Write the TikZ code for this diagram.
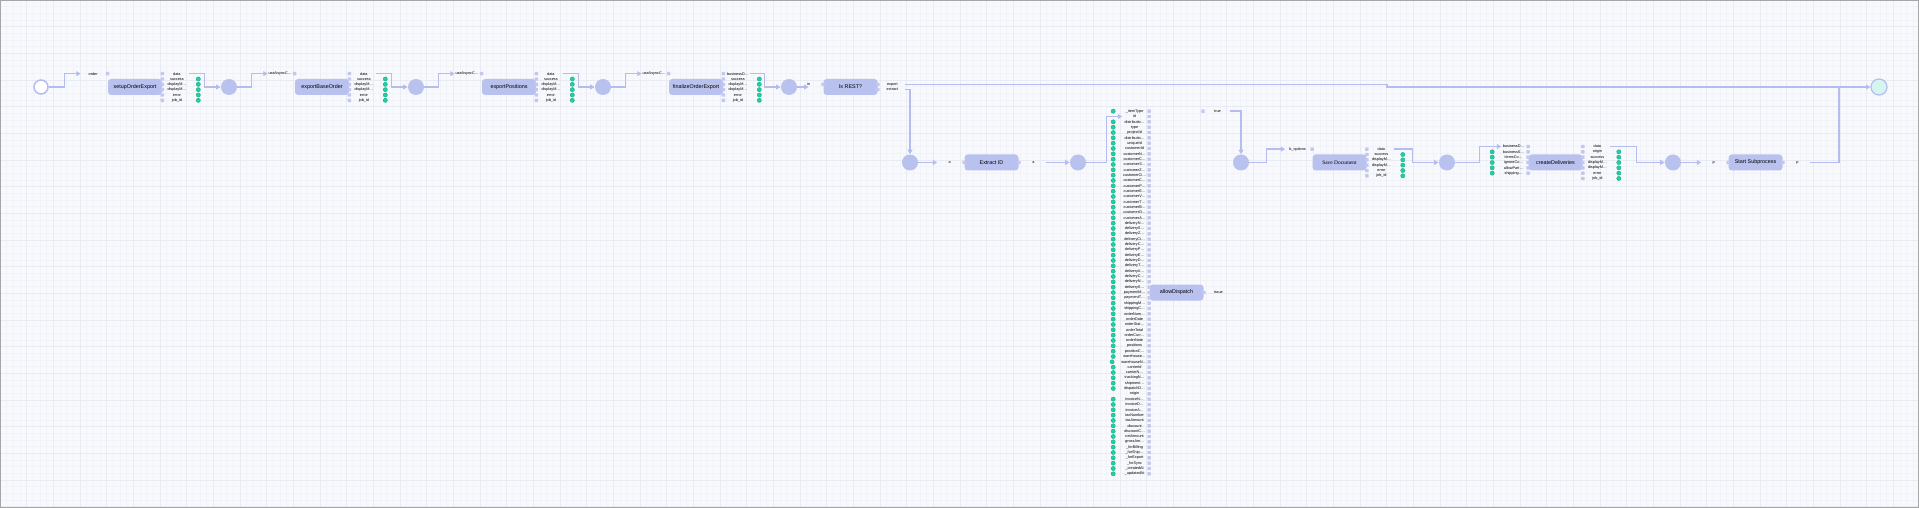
\documentclass[tikz,border=0pt]{standalone}
\usepackage{fontspec}
\setmainfont{Liberation Sans}
\newfontfamily\docserif{Liberation Serif}
\usetikzlibrary{arrows.meta,calc}

\definecolor{flowbg}{HTML}{F7F9FC}
\definecolor{gridfine}{HTML}{F1F3F8}
\definecolor{gridbold}{HTML}{E8EBF2}
\definecolor{taskfill}{HTML}{B9C1EE}
\definecolor{wirecol}{HTML}{B4BCF0}
\definecolor{portfill}{HTML}{C2C8F2}
\definecolor{dotfill}{HTML}{22CFA3}
\definecolor{dotline}{HTML}{12AE86}
\definecolor{stopfill}{HTML}{D4F6EF}

\tikzset{
  task/.style={rectangle, rounded corners=1.6pt, fill=taskfill, minimum width=27pt, minimum height=8pt, inner sep=0pt, font=\fontsize{2.7}{3}\selectfont},
  junction/.style={circle, fill=taskfill, minimum size=8pt, inner sep=0pt},
  startev/.style={circle, fill=white, draw=wirecol, line width=0.75pt, minimum size=7pt, inner sep=0pt},
  stopev/.style={circle, fill=stopfill, draw=wirecol, line width=0.6pt, minimum size=8pt, inner sep=0pt},
  port/.style={rectangle, rounded corners=0.3pt, fill=portfill, minimum size=1.7pt, inner sep=0pt},
  plabel/.style={minimum width=12pt, inner sep=0pt, font=\fontsize{1.9}{2.2}\selectfont},
  dflt/.style={circle, fill=dotfill, draw=dotline, line width=0.2pt, minimum size=2.1pt, inner sep=0pt},
  wire/.style={draw=wirecol, line width=0.7pt},
  flow/.style={wire, -{Triangle[length=2.2pt,width=2.4pt]}},
}

\begin{document}
\begin{tikzpicture}[x=0.5pt,y=-0.5pt]
\useasboundingbox (0,0) rectangle (1919,508);

% canvas
\fill[flowbg] (0,0) rectangle (1919,508);
\draw[gridfine, line width=0.2pt, step=3.3333pt] (0,0) grid (1919,508);
\draw[gridbold, line width=0.3pt, step=13.3333pt] (0,0) grid (1919,508);
\draw[gray!70, line width=0.5pt] (0.5,0.5) rectangle (1918.5,507.5);

% events and junctions
\node[startev] (start) at (41,87) {};
\node[junction] (c1) at (229,87) {};
\node[junction] (c2) at (416,87) {};
\node[junction] (c3) at (603,87) {};
\node[junction] (c4) at (789,87) {};
\node[junction] (c5) at (910,162.5) {};
\node[junction] (c6) at (1078,162.5) {};
\node[junction] (c7) at (1241,162.5) {};
\node[junction] (c8) at (1447,162.5) {};
\node[junction] (c9) at (1673,162.5) {};
\node[stopev] (stop) at (1879,87) {};

% setupOrderExport
\node[task] (setup) at (135,87) {setupOrderExport};
\node[port] (setup-i1) at ($(setup.west)+(0,-13.333)$) {};
\node[plabel,anchor=east] (setup-il1) at (setup-i1.west) {order};
\foreach \lab [count=\k] in {data,success,displayM…,displayM…,error,job\_id} {
  \node[port] (setup-o\k) at ($(setup.east)+(0,{5.333*(\k-3.5)})$) {};
  \node[plabel,anchor=west] (setup-ol\k) at (setup-o\k.east) {\lab};
  \ifnum\k>1 \node[dflt] at ([xshift=4.5pt]setup-ol\k.east) {}; \fi
}

% exportBaseOrder
\node[task] (base) at (322,87) {exportBaseOrder};
\node[port] (base-i1) at ($(base.west)+(0,-13.333)$) {};
\node[plabel,anchor=east] (base-il1) at (base-i1.west) {useAsyncC…};
\foreach \lab [count=\k] in {data,success,displayM…,displayM…,error,job\_id} {
  \node[port] (base-o\k) at ($(base.east)+(0,{5.333*(\k-3.5)})$) {};
  \node[plabel,anchor=west] (base-ol\k) at (base-o\k.east) {\lab};
  \ifnum\k>1 \node[dflt] at ([xshift=4.5pt]base-ol\k.east) {}; \fi
}

% exportPositions
\node[task] (pos) at (509,87) {exportPositions};
\node[port] (pos-i1) at ($(pos.west)+(0,-13.333)$) {};
\node[plabel,anchor=east] (pos-il1) at (pos-i1.west) {useAsyncC…};
\foreach \lab [count=\k] in {data,success,displayM…,displayM…,error,job\_id} {
  \node[port] (pos-o\k) at ($(pos.east)+(0,{5.333*(\k-3.5)})$) {};
  \node[plabel,anchor=west] (pos-ol\k) at (pos-o\k.east) {\lab};
  \ifnum\k>1 \node[dflt] at ([xshift=4.5pt]pos-ol\k.east) {}; \fi
}

% finalizeOrderExport
\node[task] (fin) at (696,87) {finalizeOrderExport};
\node[port] (fin-i1) at ($(fin.west)+(0,-13.333)$) {};
\node[plabel,anchor=east] (fin-il1) at (fin-i1.west) {useAsyncC…};
\foreach \lab [count=\k] in {businessD…,success,displayM…,displayM…,error,job\_id} {
  \node[port] (fin-o\k) at ($(fin.east)+(0,{5.333*(\k-3.5)})$) {};
  \node[plabel,anchor=west] (fin-ol\k) at (fin-o\k.east) {\lab};
  \ifnum\k>1 \node[dflt] at ([xshift=4.5pt]fin-ol\k.east) {}; \fi
}

% Is REST?
\node[task] (rest) at (850.5,87) {Is REST?};
\node[port] (rest-i1) at ($(rest.west)+(0,-2.667)$) {};
\node[plabel,anchor=east] (rest-il1) at (rest-i1.west) {in};
\foreach \lab [count=\k] in {export,extract} {
  \node[port] (rest-o\k) at ($(rest.east)+(0,{5.333*(\k-1.5)})$) {};
  \node[plabel,anchor=west] (rest-ol\k) at (rest-o\k.east) {\lab};
}

% Extract ID
\node[task] (xid) at (991.5,162.5) {Extract ID};
\node[port] (xid-i1) at (xid.west) {};
\node[plabel,anchor=east] (xid-il1) at (xid-i1.west) {a};
\node[port] (xid-o1) at (xid.east) {};
\node[plabel,anchor=west] (xid-ol1) at (xid-o1.east) {a};

% allowDispatch
\node[task] (disp) at (1176.5,292.5) {allowDispatch};
\foreach \lab [count=\k from 0] in {\_itemType,id,distributio…,type,projectId,distributio…,uniqueId,customerId,customerN…,customerC…,customerS…,customerZ…,customerCi…,customerC…,customerP…,customerE…,customerV…,customerT…,customerB…,customerO…,customerA…,deliveryN…,deliveryS…,deliveryZ…,deliveryCi…,deliveryC…,deliveryP…,deliveryE…,deliveryD…,deliveryT…,deliveryA…,deliveryC…,deliveryN…,deliveryS…,paymentM…,paymentT…,shippingM…,shippingC…,orderNum…,orderDate,orderStat…,orderTotal,orderCurr…,orderNote,positions,positionC…,warehouse…,warehouseN…,carrierId,carrierN…,trackingN…,shipment…,dispatchD…,origin,invoiceN…,invoiceD…,invoiceA…,taxNumber,taxAmount,discount,discountC…,netAmount,grossAm…,\_forBilling,\_forShip…,\_forExport,\_forSync,\_createdAt,\_updatedAt} {
  \node[port] (disp-i\k) at ($(disp.west)+(0,{5.333*(\k-34)})$) {};
  \node[plabel,anchor=east] (disp-il\k) at (disp-i\k.west) {\lab};
  \ifnum\k=1 \else\ifnum\k=53 \else
    \node[dflt] at ([xshift=-4.5pt]disp-il\k.west) {};
  \fi\fi
}
\node[port] (disp-o1) at (disp.east) {};
\node[plabel,anchor=west] (disp-ol1) at (disp-o1.east) {issue};

% constant true
\node[port] (const) at (1203,111.2) {};
\node[plabel,anchor=west] (const-l) at (const.east) {true};

% Save Document
\node[task, font={\docserif\fontsize{2.7}{3}\selectfont}] (save) at (1339.5,162.5) {Save Document};
\node[port] (save-i1) at ($(save.west)+(0,-13.333)$) {};
\node[plabel,anchor=east] (save-il1) at (save-i1.west) {b\_options};
\foreach \lab [count=\k] in {data,success,displayM…,displayM…,error,job\_id} {
  \node[port] (save-o\k) at ($(save.east)+(0,{5.333*(\k-3.5)})$) {};
  \node[plabel,anchor=west] (save-ol\k) at (save-o\k.east) {\lab};
  \ifnum\k>1 \node[dflt] at ([xshift=4.5pt]save-ol\k.east) {}; \fi
}

% createDeliveries
\node[task] (deliv) at (1555.5,162.5) {createDeliveries};
\foreach \lab [count=\k] in {businessD…,businessS…,itemsCo…,ignoreCo…,allowPart…,shipping…} {
  \node[port] (deliv-i\k) at ($(deliv.west)+(0,{5.333*(\k-4)})$) {};
  \node[plabel,anchor=east] (deliv-il\k) at (deliv-i\k.west) {\lab};
  \ifnum\k>1 \node[dflt] at ([xshift=-4.5pt]deliv-il\k.west) {}; \fi
}
\foreach \lab [count=\k] in {data,origin,success,displayM…,displayM…,error,job\_id} {
  \node[port] (deliv-o\k) at ($(deliv.east)+(0,{5.333*(\k-4)})$) {};
  \node[plabel,anchor=west] (deliv-ol\k) at (deliv-o\k.east) {\lab};
  \ifnum\k>1 \node[dflt] at ([xshift=4.5pt]deliv-ol\k.east) {}; \fi
}

% Start Subprocess
\node[task] (sub) at (1755.5,162.5) {Start Subprocess};
\node[port] (sub-i1) at (sub.west) {};
\node[plabel,anchor=east] (sub-il1) at (sub-i1.west) {p};
\node[port] (sub-o1) at (sub.east) {};
\node[plabel,anchor=west] (sub-ol1) at (sub-o1.east) {p};

% bends of the long wires
\coordinate (kink) at (1387,87);
\coordinate (merge) at (1839,87);

% wires
\draw[flow] (start.east) -| ([xshift=-8pt]setup-il1.west) -- (setup-il1.west);
\draw[flow] (setup-ol1.east) -| ([xshift=-8pt]c1.west) -- (c1.west);
\draw[flow] (c1.east) -| ([xshift=-8pt]base-il1.west) -- (base-il1.west);
\draw[flow] (base-ol1.east) -| ([xshift=-8pt]c2.west) -- (c2.west);
\draw[flow] (c2.east) -| ([xshift=-8pt]pos-il1.west) -- (pos-il1.west);
\draw[flow] (pos-ol1.east) -| ([xshift=-8pt]c3.west) -- (c3.west);
\draw[flow] (c3.east) -| ([xshift=-8pt]fin-il1.west) -- (fin-il1.west);
\draw[flow] (fin-ol1.east) -| ([xshift=-8pt]c4.west) -- (c4.west);
\draw[flow] (c4.east) -- (c4.east -| rest-il1.center);
\draw[flow] (rest-ol1.east) -| (kink) -- (stop.west);
\draw[flow] (rest-ol2.east) -| (c5.north);
\draw[flow] (c5.east) -- (xid-il1.west);
\draw[flow] (xid-ol1.east) -- (c6.west);
\draw[flow] (c6.east) -| ([xshift=-8pt]disp-il1.west) -- (disp-il1.west);
\draw[flow] (const-l.east) -| (c7.north);
\draw[flow] (c7.east) -| ([xshift=-9.5pt]save-il1.west) -- (save-il1.west);
\draw[flow] (save-ol1.east) -| ([xshift=-13pt]c8.west) -- (c8.west);
\draw[flow] (c8.east) -| ([xshift=-11pt]deliv-il1.west) -- (deliv-il1.west);
\draw[flow] (deliv-ol1.east) -| ([xshift=-14pt]c9.west) -- (c9.west);
\draw[flow] (c9.east) -- (sub-il1.west);
\draw[wire] (sub-ol1.east) -| (merge);

\end{tikzpicture}
\end{document}
